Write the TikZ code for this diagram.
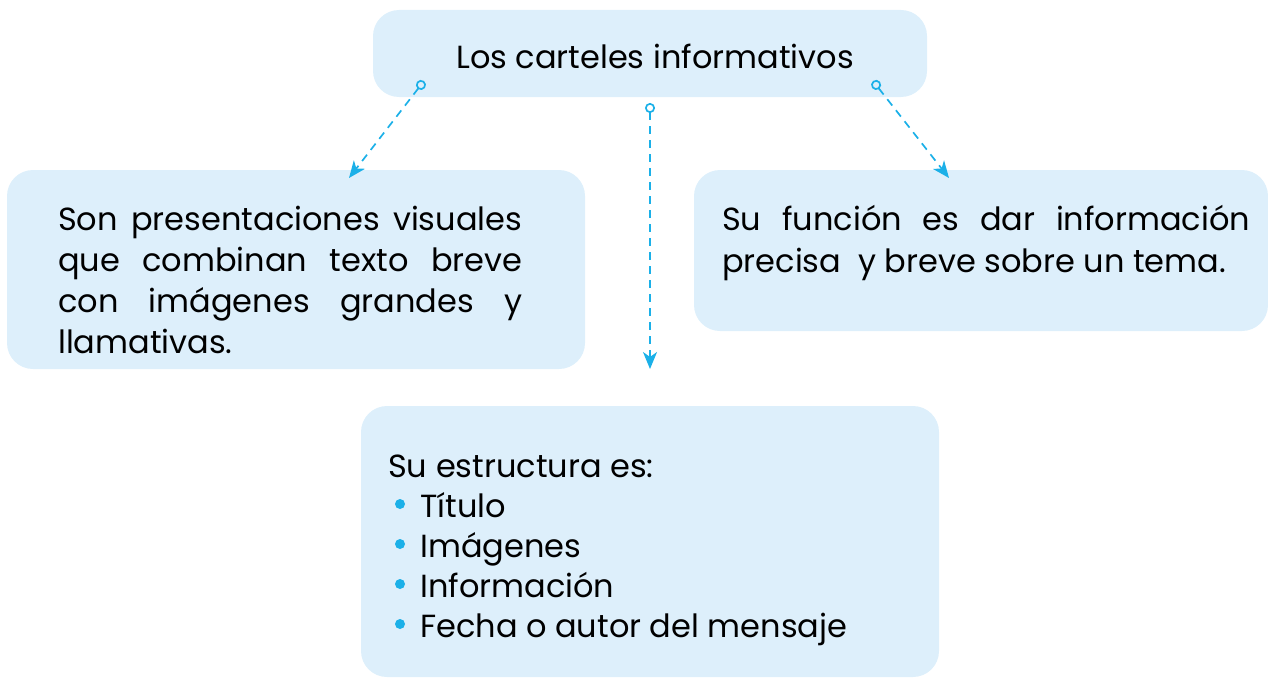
\documentclass[tikz,border=0pt]{standalone}
\usepackage{fontspec}
\setmainfont{Poppins}
\usetikzlibrary{arrows.meta}
\definecolor{boxfill}{HTML}{DDEFFB}
\definecolor{arrowc}{HTML}{1BB0E8}
\newcommand{\jline}[2]{\hbox{\makebox[#1][s]{#2}}}
\newcommand{\bitem}[1]{\hbox{\hspace*{32pt}#1}}
\tikzset{
  box/.style={fill=boxfill, draw=none, rounded corners=26pt, minimum width=#1},
  txt/.style={inner sep=0pt, font=\fontsize{32}{41}\selectfont},
  bulletdot/.style={circle, fill=arrowc, inner sep=0pt, minimum size=10pt},
  conn/.style={arrowc, line width=1.7pt, dash pattern=on 8pt off 6pt,
     {Circle[open,length=10pt,width=10pt,line width=1.7pt]}-{Stealth[length=17pt,width=14pt,inset=5pt]}}
}
\begin{document}
\begin{tikzpicture}[x=1pt,y=-1pt]
\useasboundingbox (0,0) rectangle (1268,677);
% boxes
\node[box=554pt, minimum height=87pt] (top) at (650,53.5) {};
\node[box=578pt, minimum height=199pt] (left) at (296,269.5) {};
\node[box=574pt, minimum height=161pt] (right) at (981,250.5) {};
\node[box=578pt, minimum height=271pt] (bottom) at (650,541.5) {};
% texts
\node[txt, anchor=base] (toptxt) at (655,68) {Los carteles informativos};
\node[txt, anchor=base west] (lefttxt) at (58,230)
 {\vtop{\baselineskip=41pt
  \jline{464pt}{Son presentaciones visuales}
  \jline{464pt}{que combinan texto breve}
  \jline{464pt}{con imágenes grandes y}
  \hbox{llamativas.}}};
\node[txt, anchor=base west] (righttxt) at (722,230)
 {\vtop{\baselineskip=42pt
  \jline{528pt}{Su función es dar información}
  \hbox{precisa \ y breve sobre un tema.}}};
\node[txt, anchor=base west] (bottxt) at (388,477)
 {\vtop{\baselineskip=40pt
  \hbox{Su estructura es:}
  \bitem{Título}
  \bitem{Imágenes}
  \bitem{Información}
  \bitem{Fecha o autor del mensaje}}};
% bullets
\node[bulletdot] (b1) at (400,504) {};
\node[bulletdot] (b2) at (400,544) {};
\node[bulletdot] (b3) at (400,584) {};
\node[bulletdot] (b4) at (400,624) {};
% connectors
\coordinate (s1) at (424,81);
\coordinate (e1) at (349,178);
\coordinate (s2) at (650,103);
\coordinate (e2) at (650,369);
\coordinate (s3) at (873,81);
\coordinate (e3) at (949,178);
\draw[conn] (s1) -- (e1);
\draw[conn] (s2) -- (e2);
\draw[conn] (s3) -- (e3);
\end{tikzpicture}
\end{document}
